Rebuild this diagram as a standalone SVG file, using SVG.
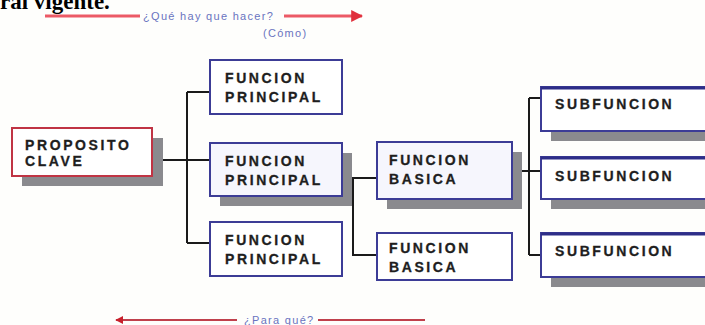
<svg xmlns="http://www.w3.org/2000/svg" width="705" height="325" viewBox="0 0 705 325">
<style>
.box{fill:#ffffff;stroke:#3c3c96;stroke-width:2}
.tint{fill:#f6f6fd}
.shadow{fill:#8a8a8e}
.lbl{font-family:"Liberation Sans",Arial,sans-serif;font-weight:bold;font-size:14px;letter-spacing:2.6px;fill:#1e1e1e;stroke:#1e1e1e;stroke-width:0.3}
.conn{fill:none;stroke:#1a1a1a;stroke-width:2}
.note{font-family:"Liberation Sans",Arial,sans-serif;font-size:11px;letter-spacing:1.3px;fill:#6a74c0}
</style>
<defs>
<marker id="ahR" viewBox="0 0 10 10" refX="9" refY="5" markerWidth="4" markerHeight="4" orient="auto"><path d="M0,0 L10,5 L0,10 z" fill="#e0303c"/></marker>
<marker id="ahL" viewBox="0 0 10 10" refX="9" refY="5" markerWidth="4" markerHeight="4" orient="auto"><path d="M0,0 L10,5 L0,10 z" fill="#c8202c"/></marker>
</defs>
<rect width="705" height="325" fill="#fefefc"/>
<text x="0" y="9" font-family="Liberation Serif,Times New Roman,serif" font-weight="bold" font-size="23" fill="#000">ral vigente.</text>

<g id="top-arrow">
<line x1="45" y1="16" x2="140" y2="16" stroke="#ec5a66" stroke-width="3"/>
<line x1="284" y1="16" x2="362" y2="16" stroke="#ec5a66" stroke-width="3" marker-end="url(#ahR)"/>
<text class="note" x="143" y="20">¿Qué hay que hacer?</text>
<text class="note" x="263" y="37">(Cómo)</text>
</g>
<g id="bottom-arrow">
<line x1="237" y1="320" x2="116" y2="320" stroke="#c0404c" stroke-width="2" marker-end="url(#ahL)"/>
<line x1="318" y1="320" x2="425" y2="320" stroke="#c0404c" stroke-width="2"/>
<text class="note" x="244" y="324">¿Para qué?</text>
</g>

<g id="connectors">
<path class="conn" d="M152,160 H210 M187,92 V243 M187,92 H210 M187,243 H210"/>
<path class="conn" d="M342,178 H377 M353,178 V255 H377"/>
<path class="conn" d="M505,171 H541 M529,98 V255 M529,98 H541 M529,255 H541"/>
</g>

<g id="proposito">
<rect class="shadow" x="22" y="138" width="141" height="48"/>
<rect x="12" y="128" width="140" height="48" fill="#fff" stroke="#c03444" stroke-width="2"/>
<text class="lbl" x="25" y="150">PROPOSITO</text>
<text class="lbl" x="25" y="166">CLAVE</text>
</g>

<g id="fp1">
<rect class="box" x="210" y="60" width="132" height="54"/>
<text class="lbl" x="225" y="83">FUNCION</text>
<text class="lbl" x="225" y="102">PRINCIPAL</text>
</g>
<g id="fp2">
<rect class="shadow" x="220" y="153" width="132" height="53"/>
<rect class="box tint" x="210" y="143" width="132" height="53"/>
<text class="lbl" x="225" y="166">FUNCION</text>
<text class="lbl" x="225" y="185">PRINCIPAL</text>
</g>
<g id="fp3">
<rect class="box" x="210" y="222" width="132" height="54"/>
<text class="lbl" x="225" y="245">FUNCION</text>
<text class="lbl" x="225" y="264">PRINCIPAL</text>
</g>

<g id="fb1">
<rect class="shadow" x="387" y="152" width="135" height="57"/>
<rect class="box tint" x="377" y="142" width="135" height="57"/>
<text class="lbl" x="389" y="165">FUNCION</text>
<text class="lbl" x="389" y="184">BASICA</text>
</g>
<g id="fb2">
<rect class="box" x="377" y="233" width="135" height="47"/>
<text class="lbl" x="389" y="253">FUNCION</text>
<text class="lbl" x="389" y="272">BASICA</text>
</g>

<g id="sf1">
<rect class="shadow" x="551" y="97" width="160" height="44"/>
<rect class="box" x="541" y="87" width="170" height="44"/>
<line x1="541" y1="88" x2="705" y2="88" stroke="#2e2e88" stroke-width="3"/>
<text class="lbl" x="555" y="109">SUBFUNCION</text>
</g>
<g id="sf2">
<rect class="shadow" x="551" y="167" width="160" height="42"/>
<rect class="box" x="541" y="157" width="170" height="42"/>
<line x1="541" y1="158" x2="705" y2="158" stroke="#2e2e88" stroke-width="3"/>
<text class="lbl" x="555" y="181">SUBFUNCION</text>
</g>
<g id="sf3">
<rect class="shadow" x="551" y="243" width="160" height="44"/>
<rect class="box" x="541" y="233" width="170" height="44"/>
<line x1="541" y1="234" x2="705" y2="234" stroke="#2e2e88" stroke-width="3"/>
<text class="lbl" x="555" y="256">SUBFUNCION</text>
</g>
</svg>
